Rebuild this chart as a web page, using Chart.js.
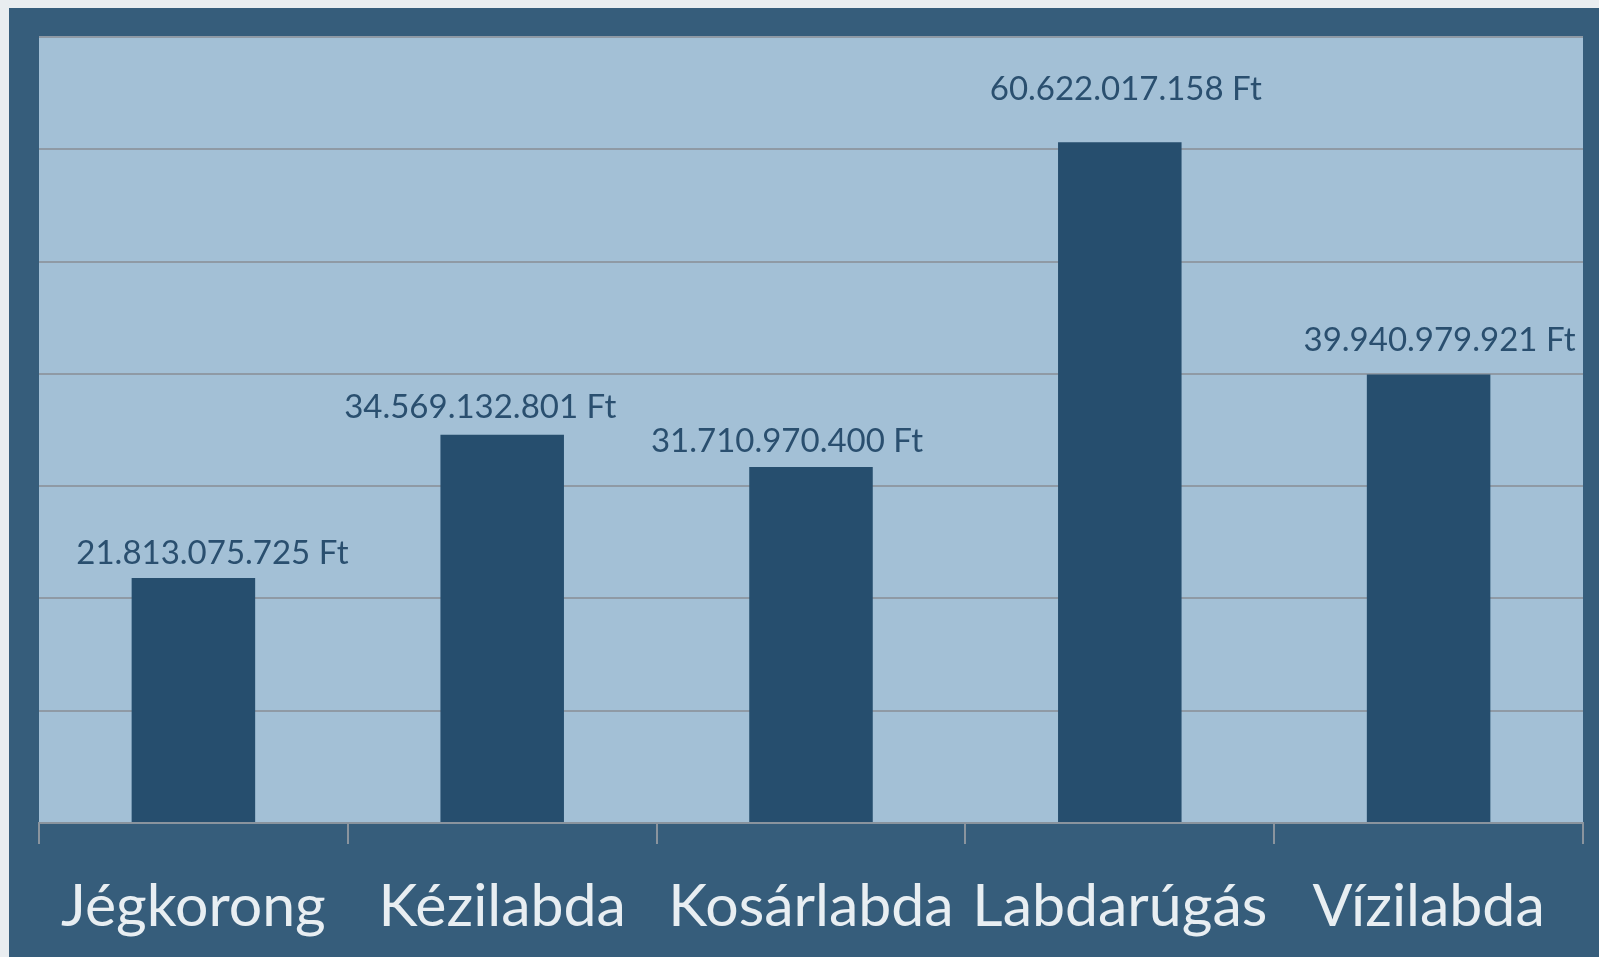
<!DOCTYPE html>
<html>
<head>
<meta charset="utf-8">
<script src="https://cdn.jsdelivr.net/npm/chart.js@4.4.0/dist/chart.umd.min.js"></script>
<style>
html,body{margin:0;padding:0;background:#e9edf0;width:1599px;height:957px;overflow:hidden;}
#panel{position:absolute;left:9px;top:8px;width:1590px;height:949px;background:#365d7b;}
#c{display:block;}
</style>
</head>
<body>
<div id="panel"><canvas id="c" width="1590" height="949"></canvas></div>
<script>
const categories = ["Jégkorong", "Kézilabda", "Kosárlabda", "Labdarúgás", "Vízilabda"];
const values = [21813075725, 34569132801, 31710970400, 60622017158, 39940979921];
const yTicks = [0, 10000000000, 20000000000, 30000000000, 40000000000, 50000000000, 60000000000, 70000000000];

function fmtFt(v){
  return String(v).replace(/\B(?=(\d{3})+(?!\d))/g, ".") + " Ft";
}

const plotBg = {
  id: 'plotBg',
  beforeDraw(chart){
    const {ctx, chartArea:a} = chart;
    ctx.save();
    ctx.fillStyle = '#a3c0d6';
    ctx.fillRect(a.left, a.top, a.right - a.left, a.bottom - a.top);
    ctx.restore();
  }
};
const valueLabels = {
  id: 'valueLabels',
  afterDatasetsDraw(chart, args, opts){
    const ctx = chart.ctx;
    const meta = chart.getDatasetMeta(0);
    ctx.save();
    ctx.font = '33px Lato';
    ctx.fillStyle = '#2a4f6f';
    ctx.textAlign = 'center';
    ctx.textBaseline = 'middle';
    meta.data.forEach((bar, i) => {
      ctx.fillText(fmtFt(values[i]), bar.x + opts.dx[i], bar.y + opts.dy[i]);
    });
    ctx.restore();
  }
};

new Chart(document.getElementById('c'), {
  type: 'bar',
  data: {
    labels: categories,
    datasets: [{
      data: values,
      backgroundColor: '#264e6e',
      borderWidth: 0,
      barPercentage: 0.4,
      categoryPercentage: 1.0
    }]
  },
  options: {
    responsive: false,
    animation: false,
    layout: { padding: { left: 30, top: 29, right: 16, bottom: 0 } },
    plugins: {
      legend: { display: false }, tooltip: { enabled: false },
      valueLabels: { dx: [19, -22, -24, 6, 11], dy: [-25, -27, -26, -53, -34] }
    },
    scales: {
      x: {
        offset: true,
        grid: { display: true, drawOnChartArea: false, drawTicks: true, tickLength: 21, color: '#8a949e', lineWidth: 2, offset: true },
        border: { display: true, color: '#8a949e', width: 2 },
        ticks: { color: '#e8eef2', font: { family: 'Lato', size: 59 }, padding: 28, maxRotation: 0, autoSkip: false },
        afterFit(s){ s.height = 134; }
      },
      y: {
        min: 0, max: 70000000000,
        afterBuildTicks(s){ s.ticks = yTicks.map(v => ({value: v})); },
        grid: { color: '#8f9aa5', lineWidth: 2, drawTicks: false },
        border: { display: false },
        ticks: { display: false },
        afterFit(s){ s.width = 0; }
      }
    }
  },
  plugins: [plotBg, valueLabels]
});
</script>
</body>
</html>
